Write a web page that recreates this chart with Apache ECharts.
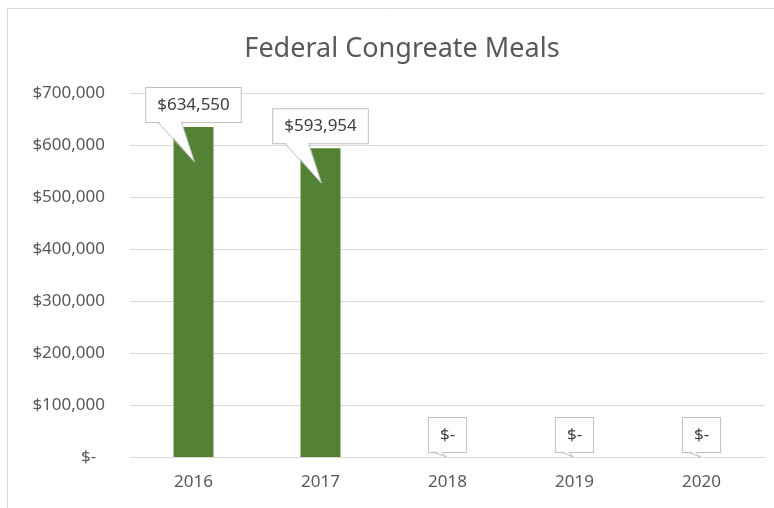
<!DOCTYPE html>
<html>
<head>
<meta charset="utf-8">
<script src="https://cdn.jsdelivr.net/npm/echarts@6/dist/echarts.min.js"></script>
<style>
  html, body { margin: 0; padding: 0; background: #fff; }
  #chart { width: 774px; height: 508px; }
</style>
</head>
<body>
<div id="chart"></div>
<script>
var years = ['2016', '2017', '2018', '2019', '2020'];
var meals = [634550, 593954, 0, 0, 0];
var yTicks = [0, 100000, 200000, 300000, 400000, 500000, 600000, 700000];

var font = 'Noto Sans';
var money = function (v) {
    if (v === 0) return '$-';
    return '$' + v.toLocaleString('en-US');
};

var chart = echarts.init(document.getElementById('chart'));

// callout tails, drawn from each bar's top
function tail(params, api) {
    var v = api.value(1);
    var p = api.coord([api.value(0), v]);
    var x = p[0], top = p[1], by = top - 5;
    var pts;
    if (v > 0) pts = [[x - 36, by], [x + 1, top + 35], [x - 12, by]];
    else pts = [[x - 14, by], [x - 1, top], [x - 6, by]];
    return {
        type: 'group',
        children: [
            { type: 'polygon', shape: { points: [[pts[0][0] + 0.5, by - 1.5], pts[1], [pts[2][0] - 0.5, by - 1.5]] },
              style: { fill: '#fff', stroke: null } },
            { type: 'polyline', shape: { points: pts }, style: { stroke: '#bfbfbf', lineWidth: 1, fill: null } }
        ]
    };
}

var option = {
    animation: false,
    graphic: [{
        type: 'rect', silent: true,
        shape: { x: 7.5, y: 8.5, width: 900, height: 700 },
        style: { fill: 'none', stroke: '#d9d9d9', lineWidth: 1 }
    }],
    title: {
        text: 'Federal Congreate Meals',
        left: 397, top: 31, textAlign: 'center',
        textStyle: { fontFamily: font, fontSize: 27, fontWeight: 'normal', color: '#595959' }
    },
    grid: { left: 130, right: 9, top: 93, bottom: 51 },
    xAxis: {
        type: 'category',
        data: years,
        axisLine: { show: true, lineStyle: { color: '#d9d9d9' } },
        axisTick: { show: false },
        axisLabel: { color: '#595959', fontFamily: font, fontSize: 17, margin: 17 }
    },
    yAxis: {
        type: 'value',
        min: yTicks[0], max: yTicks[yTicks.length - 1], interval: 100000,
        axisLine: { show: false },
        axisTick: { show: false },
        splitLine: { lineStyle: { color: '#d9d9d9' } },
        axisLabel: {
            color: '#595959', fontFamily: font, fontSize: 17, margin: 25,
            formatter: function (v) { return v === 0 ? '$-  ' : money(v); }
        }
    },
    series: [{
        type: 'bar',
        data: meals,
        barWidth: 40,
        z: 2,
        itemStyle: { color: '#548235' },
        label: {
            show: true, position: 'top', distance: 5,
            formatter: function (p) { return money(p.value); },
            color: '#404040', fontFamily: font, fontSize: 17, lineHeight: 20,
            backgroundColor: '#fff', borderColor: '#bfbfbf', borderWidth: 1,
            padding: [7, 11]
        }
    }, {
        type: 'custom',
        z: 5,
        silent: true,
        renderItem: tail,
        encode: { x: 0, y: 1 },
        data: meals.map(function (v, i) { return [i, v]; })
    }]
};
chart.setOption(option);
</script>
</body>
</html>
